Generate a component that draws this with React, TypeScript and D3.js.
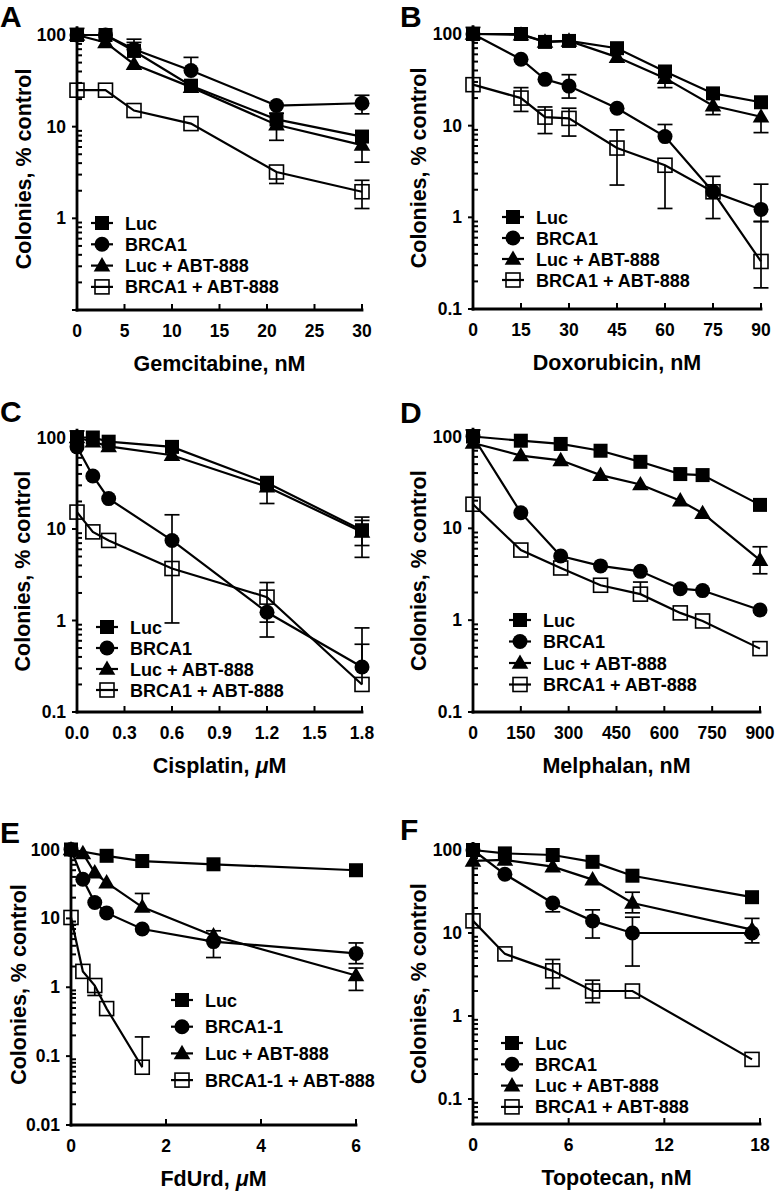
import React from 'react';
import * as d3 from 'd3';

const W = 775;
const H = 1192;
const FONT = '"Liberation Sans", Arial, Helvetica, sans-serif';

const legendNames = ['Luc', 'BRCA1', 'Luc + ABT-888', 'BRCA1 + ABT-888'];
const legendNamesE = ['Luc', 'BRCA1-1', 'Luc + ABT-888', 'BRCA1-1 + ABT-888'];
const markerKinds = ['square', 'circle', 'triangle', 'open'];

type Err = ([number | null, number | null] | null)[];

// A - gemcitabine, nM
const gemTicks = [0, 5, 10, 15, 20, 25, 30];
const gemDose = [0, 3, 6, 12, 21, 30];
const gemLuc = [100, 100, 67, 28, 12, 7.8];
const gemBrca = [100, 100, 70, 41, 17, 18];
const gemLucAbt = [100, 83, 48, 27, 10.5, 6.3];
const gemBrcaAbt = [25, 25, 15, 10.8, 3.2, 1.95];
const gemLucErr: Err = [[null, 118], null, [null, 90], null, [null, 14], null];
const gemBrcaErr: Err = [null, null, null, [null, 57], null, [13.8, 22]];
const gemLucAbtErr: Err = [null, null, [null, 83], null, [7.1, null], [4.1, null]];
const gemBrcaAbtErr: Err = [null, null, null, null, [2.4, null], [1.28, 2.6]];

// B - doxorubicin, nM
const doxTicks = [0, 15, 30, 45, 60, 75, 90];
const doxDose = [0, 15, 22.5, 30, 45, 60, 75, 90];
const doxLuc = [100, 100, 82, 84, 70, 39, 22.5, 18];
const doxBrca = [100, 53, 32, 27, 15.5, 7.6, 1.9, 1.22];
const doxLucAbt = [100, 98, 82, 84, 56, 33, 16.5, 12.5];
const doxBrcaAbt = [28, 20, 12.4, 12, 5.7, 3.7, 1.9, 0.33];
const doxLucErr: Err = [[null, 118], null, null, null, null, null, null, null];
const doxBrcaErr: Err = [null, null, null, [20, 36], null, [null, 10.3], null, [0.9, 2.3]];
const doxLucAbtErr: Err = [null, null, null, null, null, [26, null], [13.2, null], [8.4, null]];
const doxBrcaAbtErr: Err = [null, [14.3, 26], [8.2, 16], [7.7, 15.5], [2.25, 9], [1.25, null], [0.97, 2.8], [0.17, 0.9]];

// C - cisplatin, uM
const cisTicks = [0, 0.3, 0.6, 0.9, 1.2, 1.5, 1.8];
const cisDose = [0, 0.1, 0.2, 0.6, 1.2, 1.8];
const cisLuc = [100, 100, 90, 79, 32, 9.7];
const cisBrca = [79, 38, 21.5, 7.5, 1.23, 0.31];
const cisLucAbt = [100, 90, 80, 64, 29, 9.3];
const cisBrcaAbt = [15.3, 9.3, 7.5, 3.7, 1.8, 0.2];
const cisLucErr: Err = [[null, 118], null, null, null, null, [6.6, 13.5]];
const cisBrcaErr: Err = [null, null, null, null, [0.66, null], [null, 0.83]];
const cisLucAbtErr: Err = [null, null, null, null, [19, null], [4.9, 12.4]];
const cisBrcaAbtErr: Err = [null, null, null, [0.94, 14.3], [0.96, 2.6], [null, 0.55]];

// D - melphalan, nM
const melTicks = [0, 150, 300, 450, 600, 750, 900];
const melDose = [0, 150, 275, 400, 525, 650, 720, 900];
const melLuc = [100, 90, 83, 70, 53, 39, 38, 18];
const melBrca = [100, 14.8, 5.0, 3.9, 3.4, 2.2, 2.1, 1.29];
const melLucAbt = [85, 62, 55, 38, 30, 20, 14.6, 4.5];
const melBrcaAbt = [18.3, 5.8, 3.7, 2.4, 1.92, 1.2, 0.98, 0.49];
const melLucErr: Err = [[null, 118], null, null, null, null, null, null, null];
const melLucAbtErr: Err = [null, null, null, null, null, null, null, [3.2, 6.3]];
const melBrcaAbtErr: Err = [null, null, null, null, [null, 2.6], null, null, null];

// E - FdUrd, uM
const fdTicks = [0, 2, 4, 6];
const fdLucDose = [0, 0.75, 1.5, 3, 6];
const fdDose = [0, 0.25, 0.5, 0.75, 1.5, 3, 6];
const fdBrcaAbtDose = [0, 0.25, 0.5, 0.75, 1.5];
const fdLuc = [100, 81, 68, 61, 50];
const fdBrca = [100, 37, 17, 12, 7.0, 4.6, 3.1];
const fdLucAbt = [100, 88, 46, 33, 14.6, 5.6, 1.48];
const fdBrcaAbt = [10.3, 1.7, 1.06, 0.49, 0.069];
const fdBrcaErr: Err = [null, null, null, null, null, [2.7, null], [2.2, 4.4]];
const fdLucAbtErr: Err = [null, null, null, null, [null, 23], [null, 6.6], [0.9, 1.9]];
const fdBrcaAbtErr: Err = [null, null, [0.76, null], null, [null, 0.19]];

// F - topotecan, nM
const topoTicks = [0, 6, 12, 18];
const topoDose = [0, 2, 5, 7.5, 10, 17.5];
const topoLuc = [100, 91, 87, 72, 49, 27];
const topoBrca = [100, 51, 23, 14, 10, 10];
const topoLucAbt = [74, 76, 63, 44, 23, 11];
const topoBrcaAbt = [14, 5.6, 3.5, 2.0, 2.0, 0.3];
const topoBrcaErr: Err = [null, null, [18, null], [8.7, 19], [4.0, 15.5], [7.6, null]];
const topoLucAbtErr: Err = [null, null, null, null, [17.5, 31], [null, 15]];
const topoBrcaAbtErr: Err = [null, null, [2.15, 4.8], [1.45, 2.7], null, null];

const fmtInt = d3.format('d');
const fmt1 = d3.format('.1f');

const panels = [
  {
    letter: 'A', title: [['Gemcitabine, nM', false]], ticks: gemTicks, fmt: fmtInt, names: legendNames, yLabels: [100, 10, 1],
    series: [
      { x: gemDose, y: gemLuc, err: gemLucErr },
      { x: gemDose, y: gemBrca, err: gemBrcaErr },
      { x: gemDose, y: gemLucAbt, err: gemLucAbtErr },
      { x: gemDose, y: gemBrcaAbt, err: gemBrcaAbtErr },
    ],
  },
  {
    letter: 'B', title: [['Doxorubicin, nM', false]], ticks: doxTicks, fmt: fmtInt, names: legendNames, yLabels: [100, 10, 1, 0.1],
    series: [
      { x: doxDose, y: doxLuc, err: doxLucErr },
      { x: doxDose, y: doxBrca, err: doxBrcaErr },
      { x: doxDose, y: doxLucAbt, err: doxLucAbtErr },
      { x: doxDose, y: doxBrcaAbt, err: doxBrcaAbtErr },
    ],
  },
  {
    letter: 'C', title: [['Cisplatin, ', false], ['\u03bc', true], ['M', false]], ticks: cisTicks, fmt: fmt1, names: legendNames, yLabels: [100, 10, 1, 0.1],
    series: [
      { x: cisDose, y: cisLuc, err: cisLucErr },
      { x: cisDose, y: cisBrca, err: cisBrcaErr },
      { x: cisDose, y: cisLucAbt, err: cisLucAbtErr },
      { x: cisDose, y: cisBrcaAbt, err: cisBrcaAbtErr },
    ],
  },
  {
    letter: 'D', title: [['Melphalan, nM', false]], ticks: melTicks, fmt: fmtInt, names: legendNames, yLabels: [100, 10, 1, 0.1],
    series: [
      { x: melDose, y: melLuc, err: melLucErr },
      { x: melDose, y: melBrca, err: [] as Err },
      { x: melDose, y: melLucAbt, err: melLucAbtErr },
      { x: melDose, y: melBrcaAbt, err: melBrcaAbtErr },
    ],
  },
  {
    letter: 'E', title: [['FdUrd, ', false], ['\u03bc', true], ['M', false]], ticks: fdTicks, fmt: fmtInt, names: legendNamesE, yLabels: [100, 10, 1, 0.1, 0.01],
    series: [
      { x: fdLucDose, y: fdLuc, err: [] as Err },
      { x: fdDose, y: fdBrca, err: fdBrcaErr },
      { x: fdDose, y: fdLucAbt, err: fdLucAbtErr },
      { x: fdBrcaAbtDose, y: fdBrcaAbt, err: fdBrcaAbtErr },
    ],
  },
  {
    letter: 'F', title: [['Topotecan, nM', false]], ticks: topoTicks, fmt: fmtInt, names: legendNames, yLabels: [100, 10, 1, 0.1],
    series: [
      { x: topoDose, y: topoLuc, err: [] as Err },
      { x: topoDose, y: topoBrca, err: topoBrcaErr },
      { x: topoDose, y: topoLucAbt, err: topoLucAbtErr },
      { x: topoDose, y: topoBrcaAbt, err: topoBrcaAbtErr },
    ],
  },
];

// where each panel sits on the page
const layout = [
  { left: 77, right: 362, y100: 35, yMin: 0.1, yMinPx: 310, letter: [0, 27], legend: [102, 223, 21.3], titleX: 23 },
  { left: 473, right: 761, y100: 34, yMin: 0.1, yMinPx: 309, letter: [400, 27], legend: [513, 217, 21], titleX: 418 },
  { left: 77, right: 362, y100: 437.5, yMin: 0.1, yMinPx: 712, letter: [0, 422], legend: [107, 627, 21], titleX: 22 },
  { left: 473, right: 760, y100: 436.5, yMin: 0.1, yMinPx: 712, letter: [400, 423], legend: [520, 620, 21.5], titleX: 418 },
  { left: 71, right: 356, y100: 849.5, yMin: 0.01, yMinPx: 1125, letter: [0, 843], legend: [182, 1000, 26.7], titleX: 18 },
  { left: 473, right: 760, y100: 850, yMin: 0.05, yMinPx: 1124, letter: [400, 840], legend: [512, 1043, 21.3], titleX: 418 },
];

const triPath = d3.symbol().type(d3.symbolTriangle).size(120)() as string;

const Marker = ({ kind, cx, cy }: { kind: string; cx: number; cy: number }) => {
  if (kind === 'square') return <rect x={cx - 7} y={cy - 7} width={14} height={14} fill="#000" />;
  if (kind === 'circle') return <circle cx={cx} cy={cy} r={7.5} fill="#000" />;
  if (kind === 'triangle') return <path d={triPath} transform={`translate(${cx},${cy + 1})`} fill="#000" />;
  return <rect x={cx - 7} y={cy - 7} width={14} height={14} fill="none" stroke="#000" strokeWidth={1.6} />;
};

const Panel = ({ p, l }: { p: any; l: any }) => {
  const x = d3.scaleLinear().domain([0, p.ticks[p.ticks.length - 1]]).range([l.left, l.right]);
  const decade = (l.yMinPx - l.y100) / Math.log10(100 / l.yMin);
  const topPx = l.y100 - decade * Math.log10(1.2);
  const y = d3.scaleLog().domain([l.yMin, 120]).range([l.yMinPx, topPx]);
  const bottom = l.yMinPx;

  const majors: number[] = [];
  const minors: number[] = [];
  for (let e = Math.floor(Math.log10(l.yMin)); e <= 2; e++) {
    const base = Math.pow(10, e);
    if (base >= l.yMin * 0.999 && base <= 120) majors.push(base);
    for (let m = 2; m <= 9; m++) {
      const v = m * base;
      if (v >= l.yMin * 0.999 && v <= 120) minors.push(v);
    }
  }

  const [lx, ly, lgap] = l.legend;

  return (
    <g>
      <text x={l.letter[0]} y={l.letter[1]} fontSize={30} fontWeight="bold" fontFamily={FONT}>{p.letter}</text>

      {/* data */}
      {p.series.map((s: any, i: number) => {
        const line = d3.line<number>().x((d, j) => x(s.x[j])).y(d => y(d));
        return (
          <g key={i}>
            <path d={line(s.y) as string} fill="none" stroke="#000" strokeWidth={2.2} />
            {s.err.map((e: any, j: number) => {
              if (!e) return null;
              const cx = x(s.x[j]);
              const lo = e[0] == null ? y(s.y[j]) : y(e[0]);
              const hi = e[1] == null ? y(s.y[j]) : y(e[1]);
              return (
                <g key={j} stroke="#000" strokeWidth={1.7}>
                  <line x1={cx} x2={cx} y1={lo} y2={hi} />
                  {e[0] != null && <line x1={cx - 7.5} x2={cx + 7.5} y1={lo} y2={lo} />}
                  {e[1] != null && <line x1={cx - 7.5} x2={cx + 7.5} y1={hi} y2={hi} />}
                </g>
              );
            })}
            {s.y.map((v: number, j: number) => (
              <Marker key={j} kind={markerKinds[i]} cx={x(s.x[j])} cy={y(v)} />
            ))}
          </g>
        );
      })}

      {/* axes */}
      <g stroke="#000" strokeWidth={2.8} strokeLinecap="square">
        <line x1={l.left} x2={l.left} y1={bottom} y2={topPx} />
        <line x1={l.left} x2={l.right} y1={bottom} y2={bottom} />
      </g>
      <g stroke="#000" strokeWidth={2}>
        {p.ticks.slice(1).map((t: number) => (
          <line key={t} x1={x(t)} x2={x(t)} y1={bottom} y2={bottom - 6} />
        ))}
        {majors.map(v => (
          <line key={'M' + v} x1={l.left - 5} x2={l.left} y1={y(v)} y2={y(v)} />
        ))}
        {minors.map(v => (
          <line key={'m' + v} x1={l.left} x2={l.left + 5} y1={y(v)} y2={y(v)} />
        ))}
      </g>
      <g fontFamily={FONT} fontWeight="bold" fontSize={17.5}>
        {p.ticks.map((t: number) => (
          <text key={t} x={x(t)} y={bottom + 27} textAnchor="middle">{p.fmt(t)}</text>
        ))}
        {p.yLabels.map((v: number) => (
          <text key={v} x={l.left - 11} y={y(v) + 6} textAnchor="end">{d3.format('~g')(v)}</text>
        ))}
      </g>
      <text x={(l.left + l.right) / 2} y={bottom + 61} textAnchor="middle" fontFamily={FONT} fontWeight="bold" fontSize={21.5}>
        {p.title.map((part: any, k: number) => (
          <tspan key={k} fontStyle={part[1] ? 'italic' : 'normal'}>{part[0]}</tspan>
        ))}
      </text>
      <text transform={`translate(${l.titleX + 8},${(bottom + topPx) / 2}) rotate(-90)`} textAnchor="middle"
        fontFamily={FONT} fontWeight="bold" fontSize={21.5}>Colonies, % control</text>

      {/* legend */}
      {p.names.map((name: string, i: number) => {
        const yy = ly + i * lgap;
        return (
          <g key={name}>
            <line x1={lx - 11} x2={lx + 11} y1={yy} y2={yy} stroke="#000" strokeWidth={2.2} />
            <Marker kind={markerKinds[i]} cx={lx} cy={yy} />
            <text x={lx + 23} y={yy + 6.5} fontFamily={FONT} fontWeight="bold" fontSize={18}>{name}</text>
          </g>
        );
      })}
    </g>
  );
};

const App = () => (
  <svg width={W} height={H} viewBox={`0 0 ${W} ${H}`} style={{ position: 'absolute', left: 0, top: 0, background: '#fff' }}>
    {panels.map((p, i) => (
      <Panel key={p.letter} p={p} l={layout[i]} />
    ))}
  </svg>
);

export default App;
